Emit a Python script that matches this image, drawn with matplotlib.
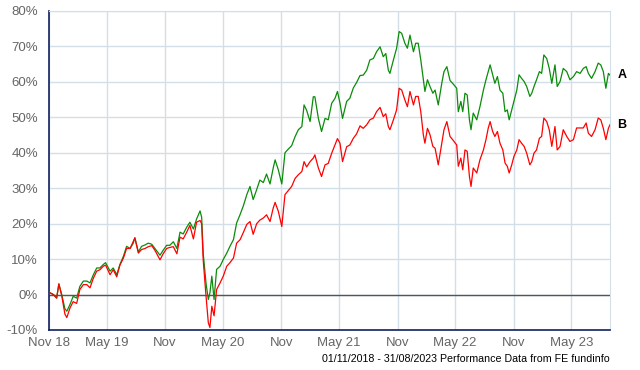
import pandas as pd
import matplotlib
matplotlib.use("Agg")
import matplotlib.pyplot as plt
import matplotlib.transforms as mtransforms

# --------------------------- DATA --------------------------- #

start_date = "2018-11-01"
end_date = "2023-08-31"

# days since 01/11/2018
days = [
    0, 3, 14, 24, 31, 40, 50, 56, 66, 76, 87, 97, 108, 119, 129, 139, 150, 160,
    171, 178, 192, 202, 213, 223, 234, 244, 255, 265, 270, 281, 291, 302, 312,
    323, 333, 349, 359, 370, 380, 391, 402, 412, 422, 433, 443, 454, 464, 475,
    480, 485, 494, 501, 506, 512, 519, 527, 538, 548, 559, 569, 580, 590, 601,
    611, 622, 632, 642, 653, 663, 674, 684, 695, 705, 711, 721, 732, 742, 752,
    763, 774, 784, 795, 802, 810, 821, 831, 836, 847, 857, 868, 878, 889, 899,
    907, 915, 923, 936, 946, 957, 967, 978, 988, 999, 1009, 1020, 1030, 1041,
    1051, 1059, 1067, 1072, 1083, 1093, 1101, 1109, 1119, 1127, 1135, 1146,
    1153, 1161, 1169, 1177, 1182, 1190, 1198, 1207, 1214, 1224, 1235, 1242,
    1251, 1261, 1271, 1282, 1287, 1295, 1301, 1308, 1315, 1322, 1327, 1334,
    1345, 1355, 1366, 1374, 1381, 1387, 1395, 1402, 1410, 1418, 1427, 1434,
    1441, 1447, 1455, 1462, 1471, 1478, 1486, 1494, 1502, 1512, 1518, 1525,
    1533, 1542, 1549, 1556, 1565, 1573, 1581, 1591, 1598, 1607, 1617, 1628,
    1638, 1649, 1659, 1670, 1680, 1689, 1696, 1706, 1717, 1727, 1735, 1743,
    1751, 1759, 1764,
]

fund_a = [
    0, 0.5, 0, -1, 3, 0, -4, -4.7, -2.8, -0.5, -1, 2.3, 3.8, 3.8, 3.3, 5.5, 7.5,
    7.5, 8.5, 9, 6.6, 7.5, 5.6, 8.5, 10.8, 13.6, 13, 14.5, 16, 12, 13.6, 14,
    14.5, 14.2, 13, 11.1, 12.5, 13.9, 13.9, 14.9, 13, 17.6, 17.1, 19, 20.4,
    18.5, 21.3, 23.6, 21.8, 11.5, 3, -1.4, 0.5, 5.2, -1.4, 7.1, 8, 9.9, 11.7,
    13.6, 15.5, 20.2, 22.6, 25, 28.2, 30.5, 26.8, 29.6, 32.3, 31.6, 34, 31.2,
    35.7, 38, 35.2, 31.2, 40, 41, 42, 44.6, 46.5, 47.4, 53.5, 52, 48.8, 55.8,
    55.8, 49.7, 46, 49.7, 49.3, 54, 55.3, 57.3, 54, 49.7, 54.5, 55.4, 58.3,
    59.8, 61.8, 61.9, 63.3, 66.2, 66.6, 68.5, 69.9, 67.1, 68, 63.3, 62.4, 66.2,
    69.5, 74.2, 73.7, 70.9, 69.5, 73.2, 68.5, 70.9, 70.9, 66.2, 60.6, 57.3,
    60.6, 58.7, 56.8, 57.7, 53.5, 59.6, 62.9, 64.3, 60.4, 59.4, 58.2, 51.6,
    54.5, 51.6, 56.8, 56.3, 49.3, 46.5, 51.2, 49.3, 53, 57.7, 60.6, 62.9, 64.8,
    62, 59.6, 61.5, 57.7, 56.8, 51.6, 52.1, 49.3, 52.1, 54.5, 57.7, 62, 61,
    60.1, 58.7, 55.9, 56.8, 58.7, 60.6, 62.9, 62.4, 67.6, 66.6, 63.8, 59.6,
    64.8, 58.7, 60.1, 63.8, 62.9, 60.6, 61.5, 62.9, 62.4, 63.8, 64.3, 62.4, 61,
    62.9, 65.3, 64.8, 62.9, 58.2, 62.4, 61.9,
]

fund_b = [
    0, 0.5, 0, -1, 3, -0.3, -5.5, -6.5, -3.8, -2, -2.5, 1.4, 2.8, 2.8, 1.9, 4.5,
    6.6, 7, 8, 8.3, 5.6, 7, 5, 8.3, 10.3, 13, 13, 15, 16, 11.7, 12.7, 13, 13.5,
    13.8, 12.5, 9.8, 11.5, 13, 13.3, 13.5, 11.5, 16.2, 15.7, 17.6, 19.5, 15.7,
    20.4, 20.9, 20, 9.6, -0.7, -8, -9.3, -3.3, -6, 1.4, 3.3, 5.2, 8, 9, 10.3,
    14.5, 15.5, 17.5, 19.8, 20.6, 17, 20, 21, 21.6, 22.5, 20.6, 24.4, 26, 23.5,
    19.2, 28.2, 29.3, 30.5, 32.8, 33.8, 34.7, 37.5, 36, 37.5, 38.5, 39.4, 35.7,
    33.3, 36.6, 37, 39.9, 42.2, 44, 42.7, 37.5, 41.7, 42.2, 44.1, 45.3, 47.6,
    46.9, 47.9, 49.3, 49.8, 51.6, 52.8, 50.2, 51, 47.4, 46.5, 49.3, 52.1, 58.2,
    57.7, 54.9, 53, 57.3, 53.5, 55.9, 55.9, 51.6, 45.1, 42.7, 46.9, 45.1, 41.8,
    41.3, 36.6, 42.7, 46.5, 48.8, 44.6, 43.5, 42.2, 36.2, 38.5, 35.2, 40.8,
    40.4, 33.3, 30.5, 35.7, 34.3, 38, 40.8, 43.7, 46.9, 48.8, 46, 44.6, 46,
    42.7, 40.8, 37.1, 36.2, 34.3, 36.6, 39, 40.8, 43.7, 42.7, 41.8, 39.9, 36.6,
    37.5, 39.9, 40.8, 44.1, 44.6, 49.8, 48.8, 46.5, 41.8, 47.4, 40.8, 41.8,
    46.5, 44.6, 43.2, 43.7, 47, 47, 47, 48.4, 45.5, 44.6, 46.5, 49.8, 49.3,
    46.9, 43.7, 46.9, 47.9,
]

tick_dates = ["2018-11-01", "2019-05-01", "2019-11-01", "2020-05-01", "2020-11-01",
              "2021-05-01", "2021-11-01", "2022-05-01", "2022-11-01", "2023-05-01"]
tick_labels = ["Nov 18", "May 19", "Nov", "May 20", "Nov", "May 21", "Nov",
               "May 22", "Nov", "May 23"]
y_ticks = [-10, 0, 10, 20, 30, 40, 50, 60, 70, 80]

# --------------------------- PLOTTING --------------------------- #

plt.rcParams["font.family"] = ["Liberation Sans", "DejaVu Sans"]

dates = pd.Timestamp(start_date) + pd.to_timedelta(days, unit="D")

fig = plt.figure(figsize=(6.4, 3.7), dpi=100)
ax = fig.add_axes([49 / 640, 1 - 330 / 370, 561 / 640, 319 / 370])

grid_color = "#d3dfe8"
navy = "#102060"

ax.plot(dates, fund_a, color="#0a8c0a", lw=0.9, zorder=3)
ax.plot(dates, fund_b, color="#ff0000", lw=0.9, zorder=4)
ax.axhline(0, color="#555555", lw=1.0, zorder=2)

ax.set_xlim(pd.Timestamp(start_date), pd.Timestamp(end_date))
ax.set_ylim(-10, 80)

ax.set_xticks(pd.to_datetime(tick_dates))
ax.set_xticklabels(tick_labels)
ax.set_yticks(y_ticks)
ax.set_yticklabels([f"{v}%" for v in y_ticks])

ax.grid(True, color=grid_color, lw=1.0, zorder=1)
ax.tick_params(axis="both", length=0, labelsize=9.5, labelcolor="#666666")
ax.tick_params(axis="y", pad=8)
ax.tick_params(axis="x", pad=5)

ax.spines["left"].set_color(navy)
ax.spines["bottom"].set_color(navy)
ax.spines["left"].set_linewidth(1.2)
ax.spines["bottom"].set_linewidth(1.2)
ax.spines["top"].set_color(grid_color)
ax.spines["right"].set_color(grid_color)

# end labels
trans = mtransforms.blended_transform_factory(ax.transAxes, ax.transData)
ax.text(1.0 + 12 / 561, fund_a[-1], "A", transform=trans, ha="center",
        va="center", fontsize=9, fontweight="bold", clip_on=False)
ax.text(1.0 + 12 / 561, fund_b[-1], "B", transform=trans, ha="center",
        va="center", fontsize=9, fontweight="bold", clip_on=False)

fig.text(610 / 640, 1 - 359 / 370, "01/11/2018 - 31/08/2023 Performance Data from FE fundinfo",
         ha="right", va="center", fontsize=7.65, color="black")

fig.savefig("out.png", dpi=100)
